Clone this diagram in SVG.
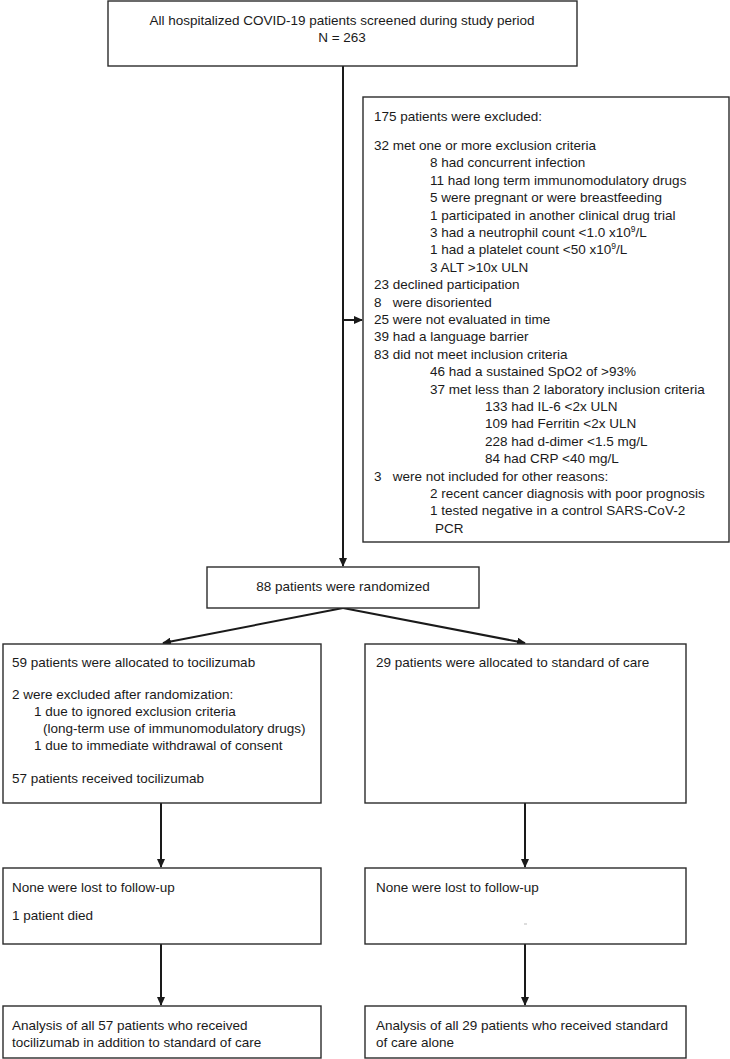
<svg xmlns="http://www.w3.org/2000/svg" width="730" height="1059" viewBox="0 0 730 1059">
<style>
.box{fill:#fff;stroke:#2b2b2b;stroke-width:1.4}
.t{font-family:"Liberation Sans",Arial,sans-serif;font-size:13.5px;fill:#1a1a1a}
.c{text-anchor:middle}
.ln{stroke:#1a1a1a;stroke-width:2;fill:none}
</style>
<defs>
<marker id="ah" markerWidth="9" markerHeight="8" refX="8" refY="4" orient="auto" markerUnits="userSpaceOnUse">
<path d="M0,0 L9,4 L0,8 z" fill="#1a1a1a"/>
</marker>
</defs>
<rect width="730" height="1059" fill="#fff"/>
<g id="connectors">
<line class="ln" x1="343" y1="66" x2="343" y2="566" marker-end="url(#ah)"/>
<line class="ln" x1="343" y1="320" x2="362" y2="320" marker-end="url(#ah)"/>
<line class="ln" x1="343" y1="608" x2="163" y2="643" marker-end="url(#ah)"/>
<line class="ln" x1="343" y1="608" x2="525" y2="643" marker-end="url(#ah)"/>
<line class="ln" x1="161" y1="803" x2="161" y2="867" marker-end="url(#ah)"/>
<line class="ln" x1="525" y1="803" x2="525" y2="867" marker-end="url(#ah)"/>
<line class="ln" x1="161" y1="944" x2="161" y2="1005" marker-end="url(#ah)"/>
<line class="ln" x1="525" y1="944" x2="525" y2="1005" marker-end="url(#ah)"/>
</g>
<g id="screened">
<rect class="box" x="108" y="1" width="469" height="65"/>
<text class="t c" x="342" y="25">All hospitalized COVID-19 patients screened during study period</text>
<text class="t c" x="342" y="42">N = 263</text>
</g>
<g id="excluded">
<rect class="box" x="363" y="97" width="366" height="445"/>
<text class="t" x="374" y="121">175 patients were excluded:</text>
<text class="t" x="374" y="150">32 met one or more exclusion criteria</text>
<text class="t" x="430" y="167.4">8 had concurrent infection</text>
<text class="t" x="430" y="184.8">11 had long term immunomodulatory drugs</text>
<text class="t" x="430" y="202.2">5 were pregnant or were breastfeeding</text>
<text class="t" x="430" y="219.6">1 participated in another clinical drug trial</text>
<text class="t" x="430" y="237">3 had a neutrophil count &lt;1.0 x10<tspan font-size="8.5" dy="-5">9</tspan><tspan dy="5">/L</tspan></text>
<text class="t" x="430" y="254.4">1 had a platelet count &lt;50 x10<tspan font-size="8.5" dy="-5">9</tspan><tspan dy="5">/L</tspan></text>
<text class="t" x="430" y="271.8">3 ALT &gt;10x ULN</text>
<text class="t" x="374" y="289.2">23 declined participation</text>
<text class="t" x="374" y="306.6" xml:space="preserve">8   were disoriented</text>
<text class="t" x="374" y="324">25 were not evaluated in time</text>
<text class="t" x="374" y="341.4">39 had a language barrier</text>
<text class="t" x="374" y="358.8">83 did not meet inclusion criteria</text>
<text class="t" x="430" y="376.2">46 had a sustained SpO2 of &gt;93%</text>
<text class="t" x="430" y="393.6">37 met less than 2 laboratory inclusion criteria</text>
<text class="t" x="485" y="411">133 had IL-6 &lt;2x ULN</text>
<text class="t" x="485" y="428.4">109 had Ferritin &lt;2x ULN</text>
<text class="t" x="485" y="445.8">228 had d-dimer &lt;1.5 mg/L</text>
<text class="t" x="485" y="463.2">84 had CRP &lt;40 mg/L</text>
<text class="t" x="374" y="480.6" xml:space="preserve">3   were not included for other reasons:</text>
<text class="t" x="430" y="498">2 recent cancer diagnosis with poor prognosis</text>
<text class="t" x="430" y="515.4">1 tested negative in a control SARS-CoV-2</text>
<text class="t" x="435" y="532.8">PCR</text>
</g>
<g id="randomized">
<rect class="box" x="207" y="567" width="272" height="41"/>
<text class="t c" x="343" y="591">88 patients were randomized</text>
</g>
<g id="alloc-toci">
<rect class="box" x="3" y="644" width="318" height="159"/>
<text class="t" x="12" y="667">59 patients were allocated to tocilizumab</text>
<text class="t" x="12" y="699">2 were excluded after randomization:</text>
<text class="t" x="34" y="716">1 due to ignored exclusion criteria</text>
<text class="t" x="43" y="733">(long-term use of immunomodulatory drugs)</text>
<text class="t" x="34" y="750">1 due to immediate withdrawal of consent</text>
<text class="t" x="12" y="783">57 patients received tocilizumab</text>
</g>
<g id="alloc-soc">
<rect class="box" x="365" y="644" width="321" height="159"/>
<text class="t" x="376" y="667">29 patients were allocated to standard of care</text>
</g>
<g id="fu-toci">
<rect class="box" x="3" y="868" width="318" height="76"/>
<text class="t" x="12" y="892">None were lost to follow-up</text>
<text class="t" x="12" y="920">1 patient died</text>
</g>
<g id="fu-soc">
<rect class="box" x="365" y="868" width="321" height="76"/>
<text class="t" x="376" y="892">None were lost to follow-up</text>
<line x1="524" y1="924" x2="527" y2="924" stroke="#bbb" stroke-width="1"/>
</g>
<g id="analysis-toci">
<rect class="box" x="3" y="1006" width="318" height="52"/>
<text class="t" x="12" y="1030">Analysis of all 57 patients who received</text>
<text class="t" x="12" y="1047">tocilizumab in addition to standard of care</text>
</g>
<g id="analysis-soc">
<rect class="box" x="365" y="1006" width="321" height="52"/>
<text class="t" x="376" y="1030">Analysis of all 29 patients who received standard</text>
<text class="t" x="376" y="1047">of care alone</text>
</g>
</svg>
